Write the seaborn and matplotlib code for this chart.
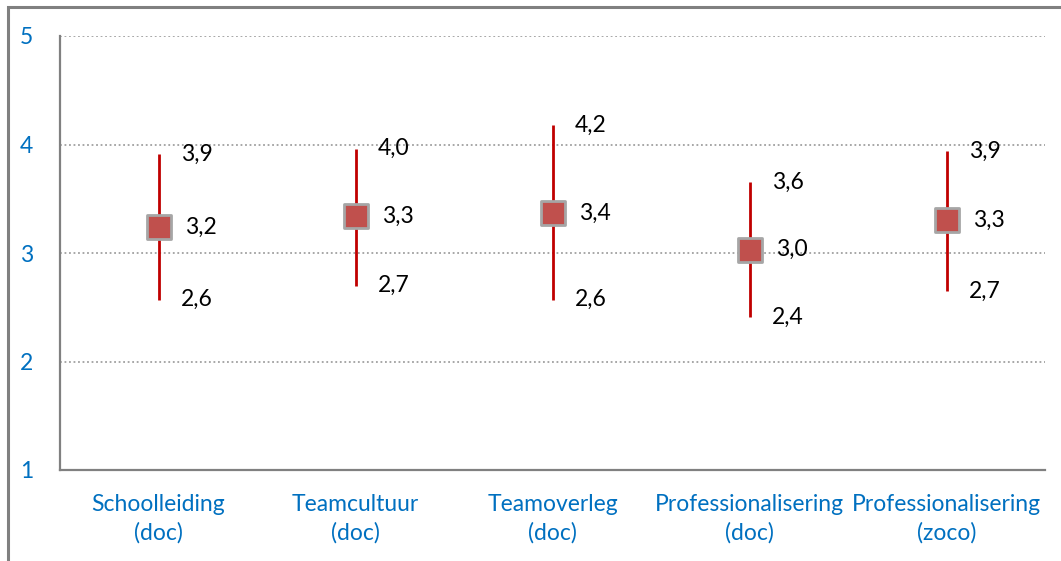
import matplotlib
matplotlib.use("Agg")
import matplotlib.pyplot as plt
import seaborn as sns
import pandas as pd
from matplotlib.patches import Rectangle

categories = ["Schoolleiding\n(doc)", "Teamcultuur\n(doc)", "Teamoverleg\n(doc)",
              "Professionalisering\n(doc)", "Professionalisering\n(zoco)"]
means = [3.24, 3.34, 3.37, 3.03, 3.30]
upper = [3.91, 3.96, 4.18, 3.65, 3.94]
lower = [2.57, 2.70, 2.57, 2.41, 2.65]
mean_labels = ["3,2", "3,3", "3,4", "3,0", "3,3"]
upper_labels = ["3,9", "4,0", "4,2", "3,6", "3,9"]
lower_labels = ["2,6", "2,7", "2,6", "2,4", "2,7"]

sns.set_style("white")
plt.rcParams['font.family'] = ['Lato', 'DejaVu Sans']

fig = plt.figure(figsize=(10.61, 5.61), dpi=100)
ax = fig.add_axes([60/1061, 1-470/561, 985/1061, 434/561])

df = pd.DataFrame({"cat": categories, "mean": means, "lo": lower, "hi": upper})
pos = list(range(len(categories)))

ax.vlines(pos, df["lo"], df["hi"], color="#C00000", linewidth=2, zorder=2)
sns.scatterplot(data=df, x="cat", y="mean", marker="s", s=290, color="#C0504D",
                edgecolor="#A6A6A6", linewidth=2, ax=ax, zorder=3, legend=False)

fs = 16.5
for i in pos:
    ax.text(i + 0.115, upper[i], upper_labels[i], fontsize=fs, va="center", ha="left", color="black")
    ax.text(i + 0.135, means[i], mean_labels[i], fontsize=fs, va="center", ha="left", color="black")
    ax.text(i + 0.115, lower[i], lower_labels[i], fontsize=fs, va="center", ha="left", color="black")

ax.set_ylim(1, 5)
ax.set_xlim(-0.5, len(categories) - 0.5)
ax.set_yticks([1, 2, 3, 4, 5])
ax.set_yticklabels(["1", "2", "3", "4", "5"])
for y in [2, 3, 4, 5]:
    ax.axhline(y, color="#A0A0A0", linestyle=(0, (1, 1.5)), linewidth=1.3, zorder=1)

ax.set_xlabel("")
ax.set_ylabel("")
ax.tick_params(axis="both", length=0, labelsize=fs, labelcolor="#0070C0")
ax.tick_params(axis="y", pad=24)
ax.tick_params(axis="x", pad=17)
for lbl in ax.get_yticklabels():
    lbl.set_horizontalalignment("center")
for lbl in ax.get_xticklabels():
    lbl.set_linespacing(1.45)

for s in ["top", "right"]:
    ax.spines[s].set_visible(False)
for s in ["left", "bottom"]:
    ax.spines[s].set_color("#808080")
    ax.spines[s].set_linewidth(1.6)

fig.patches.append(Rectangle((8/1061, -0.1), 1.2, 1 - 7/561 + 0.1, transform=fig.transFigure,
                             fill=False, edgecolor="#808080", linewidth=2.2))

fig.savefig("out.png", dpi=100)
